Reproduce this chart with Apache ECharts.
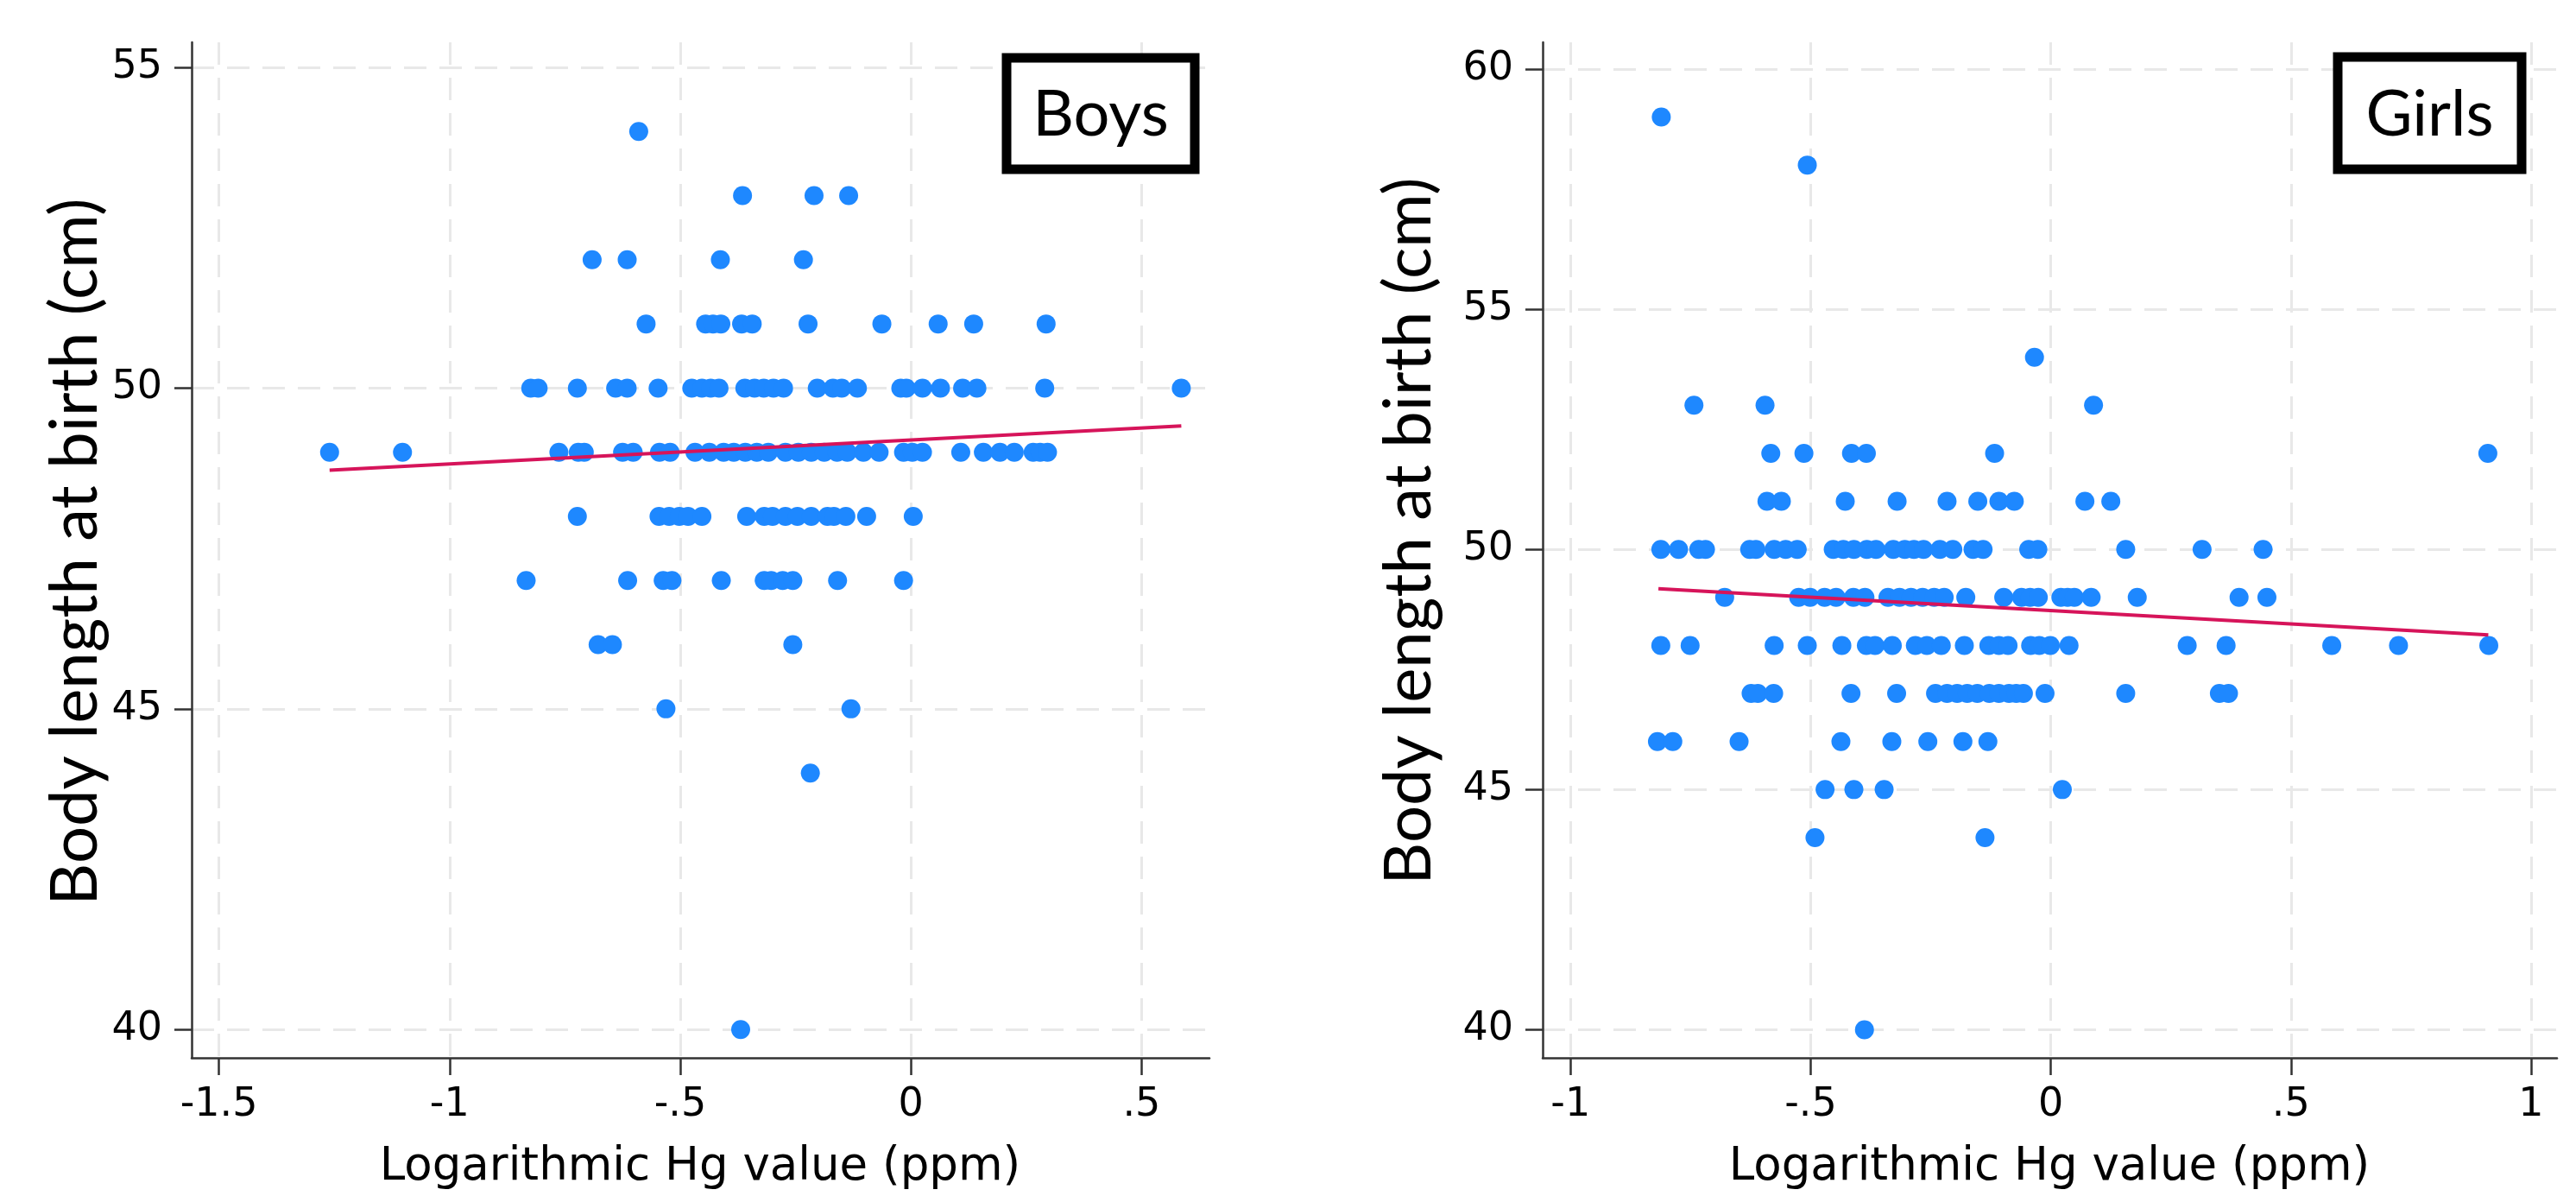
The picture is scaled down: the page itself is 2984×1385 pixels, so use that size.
<!doctype html>
<html>
<head>
<meta charset="UTF-8">
<title>Hg and body length at birth</title>
<script src="https://cdn.jsdelivr.net/npm/echarts@6.0.0/dist/echarts.min.js"></script>
<style>
html, body { margin: 0; padding: 0; background: #fff; }
#chart { width: 2984px; height: 1385px; }
</style>
</head>
<body>
<div id="chart"></div>
<script>
// body length rows (cm) and the log Hg values of the dots on each row
var boysLength = [54, 53, 52, 51, 50, 49, 48, 47, 46, 45, 44, 40];
var boysHg = [
	[-0.590],
	[-0.365, -0.210, -0.135],
	[-0.691, -0.615, -0.413, -0.233],
	[-0.574, -0.445, -0.429, -0.412, -0.367, -0.344, -0.223, -0.063, 0.059, 0.136, 0.293],
	[-0.824, -0.808, -0.723, -0.640, -0.615, -0.548, -0.475, -0.453, -0.434, -0.416, -0.360, -0.339, -0.319, -0.298, -0.276, -0.203, -0.169, -0.150, -0.116, -0.022, -0.010, 0.025, 0.064, 0.112, 0.143, 0.290, 0.586],
	[-1.260, -1.102, -0.763, -0.721, -0.708, -0.625, -0.602, -0.545, -0.522, -0.468, -0.437, -0.406, -0.384, -0.359, -0.334, -0.309, -0.272, -0.244, -0.216, -0.188, -0.160, -0.138, -0.103, -0.069, -0.016, 0.003, 0.025, 0.108, 0.157, 0.193, 0.224, 0.265, 0.280, 0.296],
	[-0.723, -0.546, -0.524, -0.502, -0.483, -0.453, -0.356, -0.318, -0.300, -0.272, -0.246, -0.216, -0.181, -0.167, -0.141, -0.096, 0.005],
	[-0.834, -0.614, -0.537, -0.518, -0.411, -0.318, -0.303, -0.278, -0.256, -0.159, -0.016],
	[-0.678, -0.647, -0.256],
	[-0.531, -0.130],
	[-0.218],
	[-0.369]
];
var girlsLength = [59, 58, 54, 53, 52, 51, 50, 49, 48, 47, 46, 45, 44, 40];
var girlsHg = [
	[-0.811],
	[-0.507],
	[-0.034],
	[-0.743, -0.595, 0.089],
	[-0.583, -0.514, -0.415, -0.384, -0.117, 0.910],
	[-0.591, -0.561, -0.428, -0.320, -0.216, -0.152, -0.108, -0.076, 0.071, 0.125],
	[-0.812, -0.775, -0.733, -0.719, -0.627, -0.614, -0.576, -0.552, -0.528, -0.453, -0.432, -0.410, -0.383, -0.364, -0.328, -0.304, -0.285, -0.265, -0.231, -0.204, -0.162, -0.141, -0.046, -0.027, 0.156, 0.315, 0.442],
	[-0.679, -0.525, -0.501, -0.471, -0.447, -0.411, -0.387, -0.339, -0.315, -0.291, -0.267, -0.243, -0.222, -0.177, -0.098, -0.061, -0.043, -0.026, 0.021, 0.035, 0.049, 0.084, 0.180, 0.392, 0.450],
	[-0.812, -0.751, -0.576, -0.507, -0.435, -0.384, -0.366, -0.330, -0.282, -0.258, -0.228, -0.180, -0.129, -0.108, -0.089, -0.042, -0.024, -0.001, 0.038, 0.284, 0.365, 0.585, 0.724, 0.912],
	[-0.624, -0.610, -0.577, -0.416, -0.321, -0.240, -0.216, -0.195, -0.174, -0.153, -0.128, -0.108, -0.087, -0.072, -0.057, -0.012, 0.156, 0.351, 0.370],
	[-0.819, -0.787, -0.649, -0.437, -0.331, -0.256, -0.183, -0.131],
	[-0.470, -0.410, -0.347, 0.024],
	[-0.491, -0.137],
	[-0.388]
];
// fitted line ends
var boysFit = [[-1.26, 48.72], [0.586, 49.41]];
var girlsFit = [[-0.817, 49.18], [0.911, 48.22]];

var boysXTicks = [-1.5, -1, -0.5, 0, 0.5];
var boysXLabels = ['-1.5', '-1', '-.5', '0', '.5'];
var boysYTicks = [40, 45, 50, 55];
var girlsXTicks = [-1, -0.5, 0, 0.5, 1];
var girlsXLabels = ['-1', '-.5', '0', '.5', '1'];
var girlsYTicks = [40, 45, 50, 55, 60];

function toPoints(lengths, hg) {
	var out = [];
	for (var i = 0; i < lengths.length; i++) {
		for (var j = 0; j < hg[i].length; j++) {
			out.push([hg[i][j], lengths[i]]);
		}
	}
	return out;
}

function labelFor(ticks, labels) {
	return function (v) {
		for (var i = 0; i < ticks.length; i++) {
			if (Math.abs(ticks[i] - v) < 1e-6) return labels ? labels[i] : String(ticks[i]);
		}
		return '';
	};
}

var tickFont = 'DejaVu Sans';
var axisColor = '#333';
var gridStyle = { color: '#e8e8e8', width: 3, type: [26, 15] };

function makeAxis(gi, min, max, ticks, labels, isX) {
	return {
		gridIndex: gi,
		type: 'value',
		min: min,
		max: max,
		axisLine: { show: true, onZero: false, lineStyle: { color: axisColor, width: 2.5 } },
		axisTick: { show: true, length: 20, customValues: ticks, lineStyle: { color: axisColor, width: 2.5 } },
		axisLabel: {
			customValues: ticks,
			formatter: labelFor(ticks, labels),
			fontFamily: tickFont,
			fontSize: 46,
			color: '#000',
			margin: isX ? 32 : 34
		},
		splitLine: { show: true, lineStyle: gridStyle }
	};
}

var titleFont = 'Lato';
function yTitle(x, y) {
	return {
		type: 'text', x: x, y: y, rotation: Math.PI / 2,
		style: { text: 'Body length at birth (cm)', fontFamily: titleFont, fontSize: 76, fill: '#000', textAlign: 'center', textVerticalAlign: 'middle' }
	};
}
function xTitle(x, y) {
	return {
		type: 'text', x: x, y: y,
		style: { text: 'Logarithmic Hg value (ppm)', fontFamily: tickFont, fontSize: 53, fill: '#000', textAlign: 'center', textVerticalAlign: 'middle' }
	};
}
function boxLabel(x, y, w, h, txt) {
	return [{
		type: 'rect', shape: { x: x, y: y, width: w, height: h },
		style: { fill: '#fff', stroke: '#000', lineWidth: 11 }, z: 100
	}, {
		type: 'text', x: x + w / 2, y: y + h / 2 + 2,
		style: { text: txt, fontFamily: titleFont, fontSize: 74, fill: '#000', textAlign: 'center', textVerticalAlign: 'middle' }, z: 101
	}];
}

var chart = echarts.init(document.getElementById('chart'));
var option = {
	animation: false,
	backgroundColor: '#fff',
	grid: [
		{ left: 222, top: 49, width: 1179, height: 1176 },
		{ left: 1787, top: 49, width: 1175, height: 1176 }
	],
	xAxis: [
		makeAxis(0, -1.559, 0.647, boysXTicks, boysXLabels, true),
		makeAxis(1, -1.058, 1.054, girlsXTicks, girlsXLabels, true)
	],
	yAxis: [
		makeAxis(0, 39.56, 55.39, boysYTicks, null, false),
		makeAxis(1, 39.416, 60.555, girlsYTicks, null, false)
	],
	graphic: [
		yTitle(87, 639),
		yTitle(1632, 615),
		xTitle(811, 1352),
		xTitle(2374, 1352)
	].concat(boxLabel(1166, 67, 218, 129, 'Boys'), boxLabel(2708, 66, 213, 130, 'Girls')),
	series: [
		{
			type: 'scatter', xAxisIndex: 0, yAxisIndex: 0,
			data: toPoints(boysLength, boysHg),
			symbolSize: 22,
			itemStyle: { color: '#1E88FF', opacity: 1 }
		},
		{
			type: 'line', xAxisIndex: 0, yAxisIndex: 0,
			data: boysFit, showSymbol: false,
			lineStyle: { color: '#D6145A', width: 4 }
		},
		{
			type: 'scatter', xAxisIndex: 1, yAxisIndex: 1,
			data: toPoints(girlsLength, girlsHg),
			symbolSize: 22,
			itemStyle: { color: '#1E88FF', opacity: 1 }
		},
		{
			type: 'line', xAxisIndex: 1, yAxisIndex: 1,
			data: girlsFit, showSymbol: false,
			lineStyle: { color: '#D6145A', width: 4 }
		}
	]
};
chart.setOption(option);
</script>
</body>
</html>
